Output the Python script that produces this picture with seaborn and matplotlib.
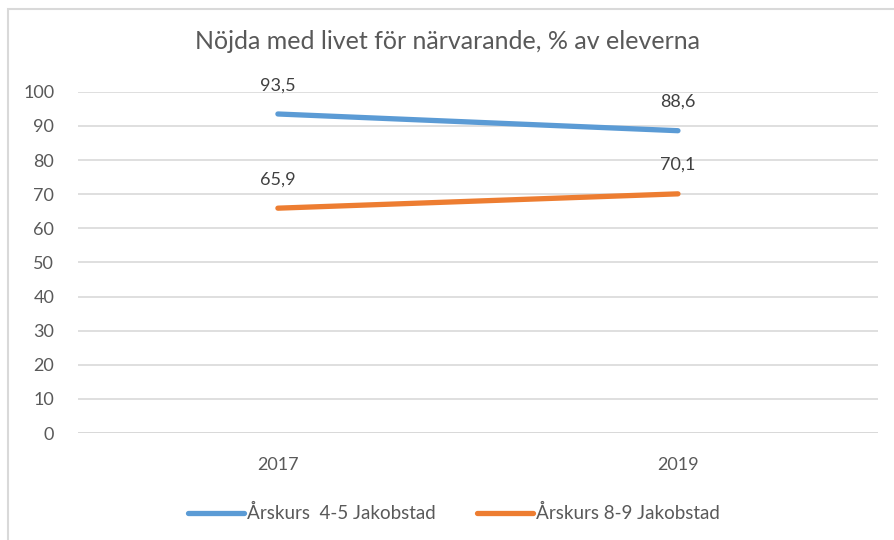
import matplotlib
matplotlib.use("Agg")
import matplotlib.pyplot as plt
import pandas as pd
import seaborn as sns
from matplotlib.patches import Rectangle

# Data
years = ["2017", "2019"]
series_names = ["Årskurs  4-5 Jakobstad", "Årskurs 8-9 Jakobstad"]
grade_4_5 = [93.5, 88.6]
grade_8_9 = [65.9, 70.1]
colors = ["#5B9BD5", "#ED7D31"]

df = pd.DataFrame({
    "year": years * 2,
    "value": grade_4_5 + grade_8_9,
    "series": [series_names[0]] * 2 + [series_names[1]] * 2,
})

sns.set_theme(style="white")
plt.rcParams["font.family"] = ["Lato", "DejaVu Sans"]

fig = plt.figure(figsize=(8.95, 5.4), dpi=100)
ax = fig.add_axes([0.087, 0.198, 0.894, 0.632])

sns.lineplot(data=df, x="year", y="value", hue="series", palette=colors,
             linewidth=3.8, sort=False, ax=ax, solid_capstyle="round")

# data labels above points
for vals in (grade_4_5, grade_8_9):
    for i, v in enumerate(vals):
        ax.annotate(f"{v:.1f}".replace(".", ","), (i, v), textcoords="offset points",
                    xytext=(0, 15), ha="center", va="bottom", fontsize=13, color="#404040")

ax.set_xlim(-0.5, 1.5)
ax.set_ylim(0, 100)
ax.set_yticks(range(0, 101, 10))
ax.yaxis.grid(True, color="#D9D9D9", linewidth=1.2)
ax.xaxis.grid(False)
for side in ["left", "right", "top", "bottom"]:
    ax.spines[side].set_visible(False)
ax.axhline(0, color="#D9D9D9", linewidth=1.4, zorder=0)
ax.tick_params(axis="both", length=0, labelsize=13, labelcolor="#595959")
ax.tick_params(axis="y", pad=17)
ax.tick_params(axis="x", pad=17)
ax.set_xlabel("")
ax.set_ylabel("")

fig.suptitle("Nöjda med livet för närvarande, % av eleverna", y=0.945,
             fontsize=18, color="#595959")

ax.legend(loc="center", bbox_to_anchor=(0.47, -0.235), ncol=2, frameon=False,
          fontsize=13.5, labelcolor="#595959", handlelength=3.0, handletextpad=0.15,
          columnspacing=2.2)

# outer chart border
fig.patches.append(Rectangle((8 / 895, -0.05), 1.2, 1 - 9 / 540 + 0.05,
                             transform=fig.transFigure, fill=False,
                             edgecolor="#D9D9D9", linewidth=1.5))

fig.savefig("out.png", dpi=100)
